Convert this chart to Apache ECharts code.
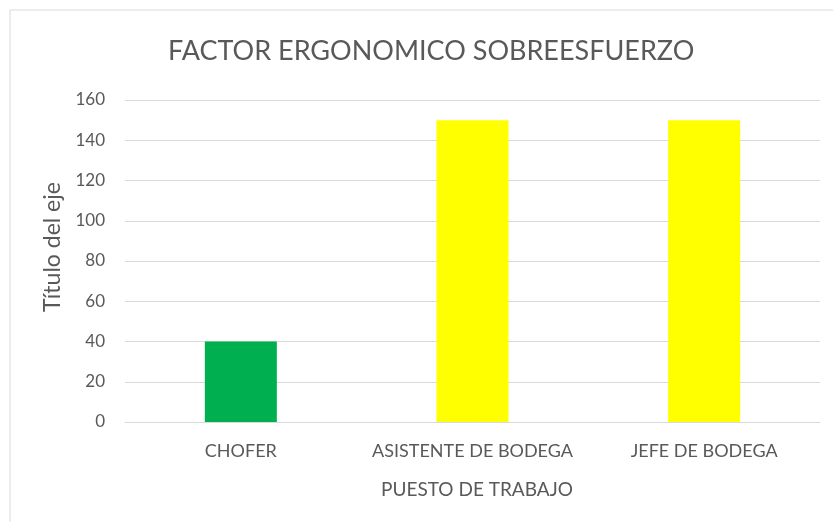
<!DOCTYPE html>
<html>
<head>
<meta charset="utf-8">
<script src="https://cdn.jsdelivr.net/npm/echarts@6/dist/echarts.min.js"></script>
<style>
    html, body { margin: 0; padding: 0; background: #fff; }
    #main_chart { width: 833px; height: 522px; }
</style>
</head>
<body>
<div id="main_chart"></div>
<script>
// datos del grafico
var puestos = ['CHOFER', 'ASISTENTE DE BODEGA', 'JEFE DE BODEGA'];
var valores = [40, 150, 150];
var colores = ['#00B050', '#FFFF00', '#FFFF00'];   // color por barra

var font = 'Lato, "Open Sans", sans-serif';
var textColor = '#595959';

var option = {
    animation: false,
    textStyle: { fontFamily: font },
    title: {
        text: 'FACTOR ERGONOMICO SOBREESFUERZO',
        left: 163,
        top: 33,
        textStyle: {
            fontFamily: font,
            fontSize: 27,
            fontWeight: 'normal',
            color: textColor
        }
    },
    graphic: [{
        type: 'rect',
        shape: { x: 10, y: 10, width: 840, height: 530 },
        style: { fill: 'none', stroke: '#D9D9D9', lineWidth: 1 },
        silent: true
    }],
    grid: {
        top: 100,
        left: 125,
        right: 13,
        bottom: 100
    },
    xAxis: {
        type: 'category',
        data: puestos,
        name: 'PUESTO DE TRABAJO',
        nameLocation: 'middle',
        nameGap: 58,
        nameTextStyle: { fontSize: 19, color: textColor, fontFamily: font, padding: [0, 0, 0, 9] },
        axisTick: { show: false },
        axisLine: { lineStyle: { color: '#D9D9D9' } },
        axisLabel: { interval: 0, fontSize: 18, color: textColor, margin: 20, fontFamily: font }
    },
    yAxis: {
        type: 'value',
        min: 0,
        max: 160,
        interval: 20,
        name: 'Título del eje',
        nameLocation: 'middle',
        nameGap: 55,
        nameTextStyle: { fontSize: 23, color: textColor, fontFamily: font, padding: [0, 0, 0, 28] },
        axisLine: { show: false },
        axisTick: { show: false },
        axisLabel: { fontSize: 17, color: textColor, margin: 20, fontFamily: font },
        splitLine: { lineStyle: { color: '#D9D9D9' } }
    },
    series: [{
        type: 'bar',
        data: valores,
        barWidth: 72,
        itemStyle: {
            color: function (p) { return colores[p.dataIndex]; }
        }
    }]
};
echarts.init(document.getElementById('main_chart')).setOption(option);
</script>
</body>
</html>
